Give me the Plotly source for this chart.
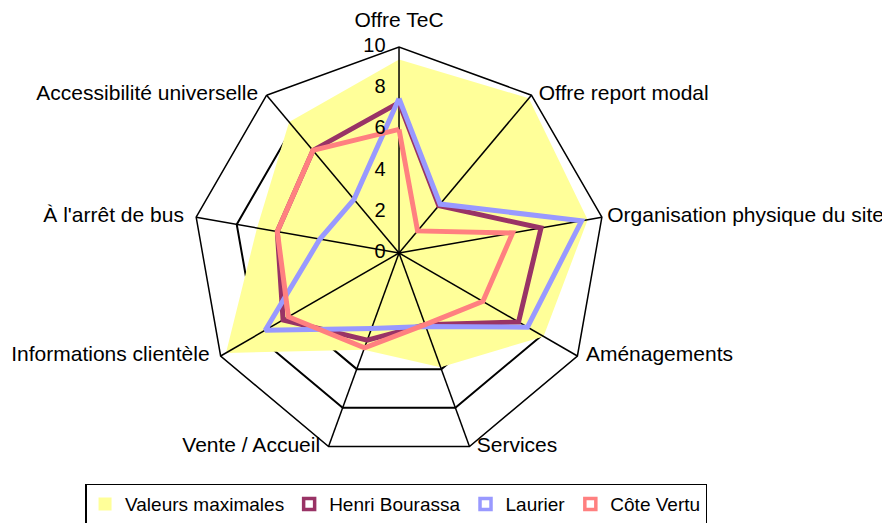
import plotly.graph_objects as go

# Radar axes (clockwise from top)
categories = ["Offre TeC", "Offre report modal", "Organisation physique du site",
              "Aménagements", "Services", "Vente / Accueil",
              "Informations clientèle", "À l'arrêt de bus", "Accessibilité universelle"]

valeurs_max = [9.4, 9.8, 9.3, 8.1, 5.9, 5.0, 9.7, 7.0, 8.3]
henri_bourassa = [7.3, 3.0, 7.0, 6.7, 3.7, 4.5, 6.5, 6.0, 6.5]
laurier = [7.5, 3.1, 9.0, 7.2, 3.8, 3.9, 7.5, 3.9, 3.4]
cote_vertu = [6.0, 1.4, 5.6, 4.7, 3.7, 4.9, 6.2, 6.0, 6.5]

radial_ticks = [0, 2, 4, 6, 8, 10]

YELLOW = '#FFFF99'
series = [("Henri Bourassa", henri_bourassa, '#993366'),
          ("Laurier", laurier, '#9999FF'),
          ("Côte Vertu", cote_vertu, '#FF8080')]

FONT = "Liberation Sans, Arial, sans-serif"

fig = go.Figure()

# yellow area
fig.add_trace(go.Scatterpolar(r=valeurs_max, theta=categories, fill='toself',
                              fillcolor=YELLOW, mode='none', showlegend=False,
                              name="Valeurs maximales"))

# spokes drawn above the fill
for c in categories:
    fig.add_trace(go.Scatterpolar(r=[radial_ticks[0], radial_ticks[-1]], theta=[c, c],
                                  mode='lines', line=dict(color='black', width=1.5),
                                  showlegend=False, hoverinfo='skip'))

for name, vals, color in series:
    fig.add_trace(go.Scatterpolar(r=vals + vals[:1], theta=categories + categories[:1],
                                  mode='lines', line=dict(color=color, width=5),
                                  showlegend=False, name=name, legendgroup=name))

# radial tick labels, left of the first spoke
# plotly hides a point sitting exactly on the centre, so nudge the "0" a hair outward
label_r = [t if t > 0 else 0.01 for t in radial_ticks]
fig.add_trace(go.Scatterpolar(r=label_r, theta=[categories[0]] * len(radial_ticks),
                              mode='markers+text', text=[str(t) for t in radial_ticks],
                              textposition='middle left',
                              textfont=dict(size=20, color='black', family=FONT),
                              marker=dict(size=20, opacity=0),
                              cliponaxis=False, showlegend=False, hoverinfo='skip'))

# category labels at the outer ring, placed like the original (excel style)
label_pos = ['top center', 'middle right', 'middle right', 'middle right', 'middle right',
             'middle left', 'middle left', 'middle left', 'middle left']
label_pad = [22, 10, 7, 12, 10, 12, 16, 18, 12]
fig.add_trace(go.Scatterpolar(r=[radial_ticks[-1]] * len(categories), theta=categories,
                              mode='markers+text', text=categories, textposition=label_pos,
                              textfont=dict(size=21, color='black', family=FONT),
                              marker=dict(size=label_pad, opacity=0),
                              cliponaxis=False, showlegend=False, hoverinfo='skip'))

# legend entries (square symbols like the original)
fig.add_trace(go.Scatterpolar(r=[None], theta=[None], mode='markers', name="Valeurs maximales",
                              marker=dict(symbol='square', size=13, color=YELLOW)))
for name, vals, color in series:
    fig.add_trace(go.Scatterpolar(r=[None], theta=[None], mode='markers', name=name,
                                  legendgroup=name,
                                  marker=dict(symbol='square', size=11, color='white',
                                              line=dict(color=color, width=3.5))))

fig.update_layout(
    width=890, height=523,
    margin=dict(l=0, r=0, t=0, b=0),
    paper_bgcolor='white',
    font=dict(family=FONT, color='black', size=21),
    polar=dict(
        domain=dict(x=[0.2079, 0.6708], y=[0.1377, 0.9254]),
        bgcolor='white',
        gridshape='linear',
        radialaxis=dict(range=[0, 10], tickvals=radial_ticks, showline=False, ticks='',
                        gridcolor='black', gridwidth=1.5, angle=90,
                        showticklabels=False),
        angularaxis=dict(rotation=90, direction='clockwise', showgrid=False,
                         showline=True, linecolor='black', linewidth=1.5, ticks='',
                         showticklabels=False),
    ),
    showlegend=True,
    legend=dict(orientation='h', x=0.436, xanchor='center', y=0.012, yanchor='bottom',
                bordercolor='black', borderwidth=1.5, itemwidth=30,
                font=dict(size=19, color='black', family=FONT)),
)

fig.write_html("out.html")
